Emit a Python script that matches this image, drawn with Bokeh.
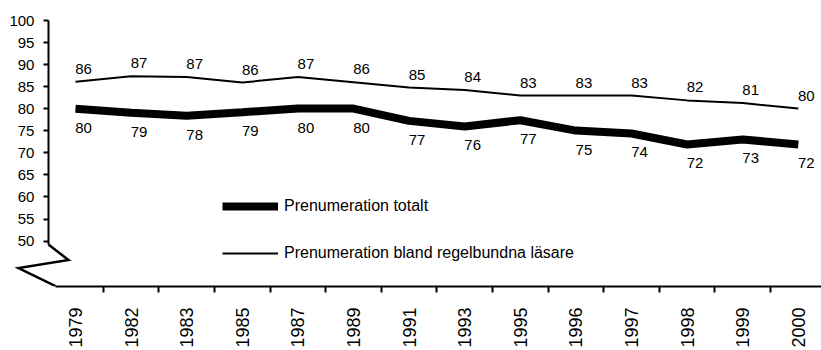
import math
from bokeh.plotting import figure
from bokeh.models import (Range1d, FixedTicker, Legend, LegendItem, ColumnDataSource)
from bokeh.core.properties import value
from bokeh.embed import file_html
from bokeh.resources import INLINE

# ---- data ----
years = ["1979", "1982", "1983", "1985", "1987", "1989", "1991",
         "1993", "1995", "1996", "1997", "1998", "1999", "2000"]
totalt = [79.98, 79.1, 78.4, 79.2, 80.05, 80.05, 77.25,
          76.0, 77.4, 75.05, 74.4, 71.9, 73.05, 71.9]
regelbundna = [86.1, 87.35, 87.2, 85.95, 87.2, 86.0, 84.8,
               84.25, 83.0, 83.0, 83.0, 81.9, 81.3, 80.05]
y_ticks = [50, 55, 60, 65, 70, 75, 80, 85, 90, 95, 100]
series_names = ["Prenumeration totalt", "Prenumeration bland regelbundna läsare"]

FONT = "Liberation Sans"
idx = list(range(len(years)))

# ---- layout constants ----
X_START, X_END = -1.259, 13.417
Y_START, Y_END = 39.71, 104.54
YAXIS_X = -0.486
BREAK_TOP = 49.23
XAXIS_START = -0.36

p = figure(width=821, height=350,
           x_range=Range1d(X_START, X_END), y_range=Range1d(Y_START, Y_END),
           output_backend="svg", toolbar_location=None,
           min_border_left=5, min_border_right=0, min_border_top=0,
           min_border_bottom=57)
p.outline_line_color = None
p.xgrid.visible = False
p.ygrid.visible = False

# y axis
ya = p.yaxis[0]
ya.fixed_location = YAXIS_X
ya.bounds = (BREAK_TOP, 100)
ya.ticker = FixedTicker(ticks=y_ticks)
ya.major_tick_out = 5
ya.major_tick_in = 0
ya.minor_tick_out = 0
ya.minor_tick_in = 0
ya.axis_line_width = 2
ya.axis_line_color = "black"
ya.major_tick_line_width = 2
ya.major_tick_line_color = "black"
ya.major_label_standoff = 9
ya.major_label_text_font = FONT
ya.major_label_text_font_size = "15px"
ya.major_label_text_color = "black"

# x axis
xa = p.xaxis[0]
xa.bounds = (XAXIS_START, X_END + 1)
xa.ticker = FixedTicker(ticks=idx, minor_ticks=[i + 0.5 for i in idx])
xa.major_label_overrides = {i: y for i, y in zip(idx, years)}
xa.major_tick_out = 0
xa.major_tick_in = 0
xa.minor_tick_out = 6
xa.minor_tick_in = 0
xa.minor_tick_line_width = 2
xa.minor_tick_line_color = "black"
xa.axis_line_width = 2
xa.axis_line_color = "black"
xa.major_label_orientation = math.pi / 2
xa.major_label_standoff = 15
xa.major_label_text_font = FONT
xa.major_label_text_font_size = "18px"
xa.major_label_text_color = "black"

# axis break zigzag
zx = [YAXIS_X, -0.126, -1.025, XAXIS_START]
zy = [BREAK_TOP, 45.7, 43.9, Y_START + 0.1]
p.line(zx, zy, line_width=2.5, line_color="black", line_join="miter")

# series
src = ColumnDataSource(dict(
    x=idx, tot=totalt, reg=regelbundna,
    tot_lbl=[f"{round(v)}" for v in totalt],
    reg_lbl=[f"{round(v)}" for v in regelbundna]))

r_tot = p.line("x", "tot", source=src, line_width=8, line_color="black")
r_reg = p.line("x", "reg", source=src, line_width=2, line_color="black")

p.text("x", "tot", text="tot_lbl", source=src, x_offset=8, y_offset=14,
       text_align="center", text_baseline="top",
       text_font=value(FONT), text_font_size="15px", text_color="black")
p.text("x", "reg", text="reg_lbl", source=src, x_offset=8, y_offset=-13,
       text_align="center", text_baseline="alphabetic",
       text_font=value(FONT), text_font_size="15px", text_color="black")

legend = Legend(items=[LegendItem(label=series_names[0], renderers=[r_tot]),
                       LegendItem(label=series_names[1], renderers=[r_reg])],
                location=(217, 23), glyph_width=56, glyph_height=20,
                label_height=20, spacing=27, padding=0, margin=0,
                border_line_color=None, background_fill_alpha=0,
                label_text_font=FONT, label_text_font_size="16px",
                label_text_color="black", label_standoff=6)
p.add_layout(legend)

open("out.html", "w").write(file_html(p, INLINE))
